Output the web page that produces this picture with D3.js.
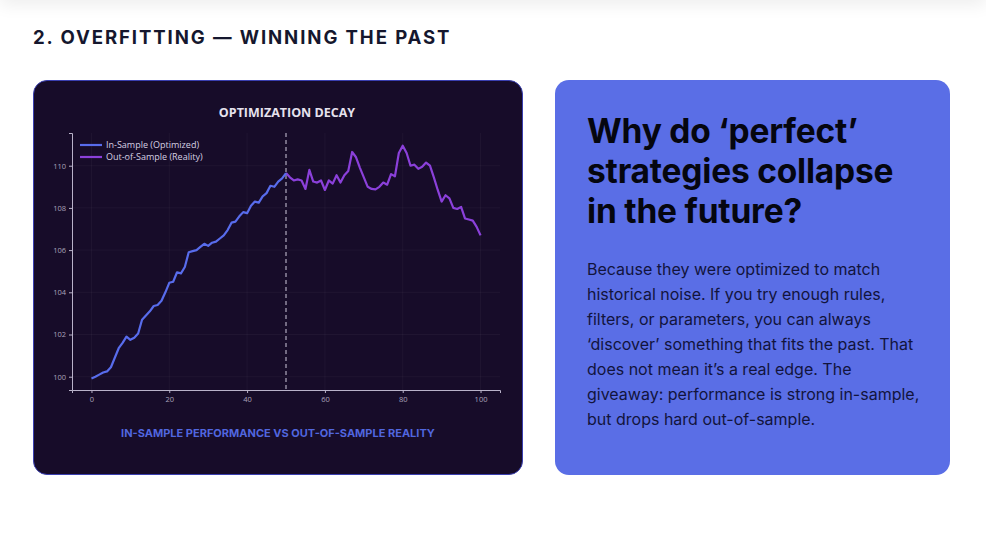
<!DOCTYPE html>
<html>
<head>
<meta charset="utf-8">
<script src="https://cdn.jsdelivr.net/npm/d3@7"></script>
<style>
  html, body { margin: 0; padding: 0; background: #ffffff; }
  body { width: 986px; height: 559px; position: relative; overflow: hidden; font-family: Inter, "Noto Sans", sans-serif; }
  .topshade { position: absolute; left: 0; top: -20px; width: 986px; height: 20px; box-shadow: 0 4px 18px rgba(0,0,0,0.08); }
  .heading { position: absolute; left: 33px; top: 26px; font-size: 18.6px; font-weight: 700; letter-spacing: 1.9px; color: #15172e; }
  #chart { position: absolute; left: 33px; top: 80px; width: 490px; height: 395px; box-sizing: border-box;
           background: #170c29; border: 1.5px solid #3a3fb0; border-radius: 14px; }
  .card { position: absolute; left: 555px; top: 80px; width: 395px; height: 395px; box-sizing: border-box;
          background: #5a6ee6; border-radius: 14px; padding: 31px 20px 0 32px; }
  .card h2 { margin: 0; font-size: 33.5px; line-height: 40px; font-weight: 700; color: #05060f; letter-spacing: -0.2px; white-space: nowrap; }
  .card p { margin: 26px 0 0 0; font-size: 16px; line-height: 25px; color: #12143d; white-space: nowrap; }
</style>
</head>
<body>
<div class="topshade"></div>
<div class="heading">2. OVERFITTING — WINNING THE PAST</div>
<div id="chart"></div>
<div class="card">
  <h2>Why do ‘perfect’<br>strategies collapse<br>in the future?</h2>
  <p>Because they were optimized to match<br>historical noise. If you try enough rules,<br>filters, or parameters, you can always<br>‘discover’ something that fits the past. That<br>does not mean it’s a real edge. The<br>giveaway: performance is strong in-sample,<br>but drops hard out-of-sample.</p>
</div>
<script>
// values, step 0..100
const inSampleSteps = d3.range(0, 51);
const inSampleValues = [
  99.92, 100.0, 100.1, 100.2, 100.25, 100.45, 100.9, 101.35, 101.6, 101.9,
  101.75, 101.85, 102.05, 102.7, 102.9, 103.1, 103.35, 103.4, 103.6, 104.0,
  104.45, 104.5, 104.95, 104.9, 105.2, 105.9, 105.95, 106.0, 106.15, 106.3,
  106.2, 106.35, 106.4, 106.55, 106.7, 106.95, 107.3, 107.35, 107.6, 107.8,
  107.75, 108.1, 108.3, 108.25, 108.55, 108.7, 109.05, 109.0, 109.25, 109.4,
  109.65
];
const outSampleSteps = d3.range(50, 101);
const outSampleValues = [
  109.65, 109.45, 109.3, 109.35, 109.3, 108.9, 109.8, 109.25, 109.2, 109.3,
  108.85, 109.3, 109.15, 109.55, 109.2, 109.55, 109.75, 110.65, 110.4, 109.9,
  109.45, 109.0, 108.9, 108.88, 109.0, 109.2, 109.1, 109.6, 109.5, 110.6,
  110.95, 110.6, 110.0, 110.05, 109.85, 109.95, 110.15, 110.0, 109.45, 108.85,
  108.3, 108.6, 108.45, 108.0, 107.95, 108.05, 107.5, 107.45, 107.4, 107.1,
  106.7
];
const xTicks = [0, 20, 40, 60, 80, 100];
const yTicks = [100, 102, 104, 106, 108, 110];
const splitStep = 50;
const seriesNames = ["In-Sample (Optimized)", "Out-of-Sample (Reality)"];
const seriesColors = ["#586cec", "#8b40da"];

const width = 490, height = 395;
const margin = {top: 53, left: 39, right: 23, bottom: 85};

const svg = d3.select("#chart")
    .append("svg")
    .attr("width", width - 3)
    .attr("height", height - 3)
    .style("position", "absolute")
    .style("left", "-1.5px")
    .style("top", "-1.5px")
    .attr("viewBox", `0 0 ${width - 3} ${height - 3}`);

const xScale = d3.scaleLinear()
    .domain([-5, 105])
    .range([margin.left, width - margin.right]);

const yScale = d3.scaleLinear()
    .domain([99.37, 111.55])
    .range([height - margin.bottom, margin.top]);

// faint grid
svg.append("g")
    .selectAll("line")
    .data(xTicks)
    .enter()
    .append("line")
        .attr("x1", d => xScale(d)).attr("x2", d => xScale(d))
        .attr("y1", margin.top).attr("y2", height - margin.bottom)
        .attr("stroke", "rgba(255,255,255,0.04)");
svg.append("g")
    .selectAll("line")
    .data(yTicks)
    .enter()
    .append("line")
        .attr("x1", margin.left).attr("x2", width - margin.right)
        .attr("y1", d => yScale(d)).attr("y2", d => yScale(d))
        .attr("stroke", "rgba(255,255,255,0.04)");

// axes
const xAxis = svg.append("g")
    .attr("transform", `translate(0,${height - margin.bottom})`)
    .call(d3.axisBottom(xScale).tickValues(xTicks).tickSize(3).tickPadding(4));

const yAxis = svg.append("g")
    .attr("transform", `translate(${margin.left},0)`)
    .call(d3.axisLeft(yScale).tickValues(yTicks).tickSize(3).tickPadding(3));

[xAxis, yAxis].forEach(function(ax) {
    ax.select(".domain").attr("stroke", "#b9b2c9").attr("stroke-width", 1);
    ax.selectAll(".tick line").attr("stroke", "#b9b2c9");
    ax.selectAll(".tick text")
        .attr("fill", "#aaa3ba")
        .style("font-family", "'Open Sans', 'Noto Sans', sans-serif")
        .style("font-size", "7.5px");
});

// split marker
svg.append("line")
    .attr("x1", xScale(splitStep)).attr("x2", xScale(splitStep))
    .attr("y1", margin.top).attr("y2", height - margin.bottom)
    .attr("stroke", "#cfc8dc")
    .attr("stroke-width", 1)
    .attr("stroke-dasharray", "4,3");

const line = d3.line()
    .x(d => xScale(d[0]))
    .y(d => yScale(d[1]));

svg.append("path")
    .datum(outSampleSteps.map((s, i) => [s, outSampleValues[i]]))
    .attr("d", line)
    .attr("fill", "none")
    .attr("stroke", seriesColors[1])
    .attr("stroke-width", 2.2)
    .attr("stroke-linejoin", "round");

svg.append("path")
    .datum(inSampleSteps.map((s, i) => [s, inSampleValues[i]]))
    .attr("d", line)
    .attr("fill", "none")
    .attr("stroke", seriesColors[0])
    .attr("stroke-width", 2.2)
    .attr("stroke-linejoin", "round");

// legend
const legend = svg.append("g")
    .attr("transform", `translate(${margin.left + 8},${margin.top + 12})`);
seriesNames.forEach(function(name, i) {
    legend.append("line")
        .attr("x1", 0).attr("x2", 22)
        .attr("y1", i * 12).attr("y2", i * 12)
        .attr("stroke", seriesColors[i])
        .attr("stroke-width", 2.2);
    legend.append("text")
        .attr("x", 26).attr("y", i * 12)
        .attr("dy", "0.35em")
        .attr("fill", "#d6d0e2")
        .style("font-family", "'Open Sans', 'Noto Sans', sans-serif")
        .style("font-size", "9px")
        .text(name);
});

// title + caption
svg.append("text")
    .attr("x", width / 2 + 9)
    .attr("y", 37)
    .attr("text-anchor", "middle")
    .attr("fill", "#e6e2ee")
    .style("font-family", "'Open Sans', 'Noto Sans', sans-serif")
    .style("font-weight", 700)
    .style("font-size", "12.5px")
    .text("OPTIMIZATION DECAY");

svg.append("text")
    .attr("x", width / 2)
    .attr("y", 357)
    .attr("text-anchor", "middle")
    .attr("fill", "#5166df")
    .style("font-family", "Inter, sans-serif")
    .style("font-weight", 700)
    .style("font-size", "11px")
    .text("IN-SAMPLE PERFORMANCE VS OUT-OF-SAMPLE REALITY");
</script>
</body>
</html>
